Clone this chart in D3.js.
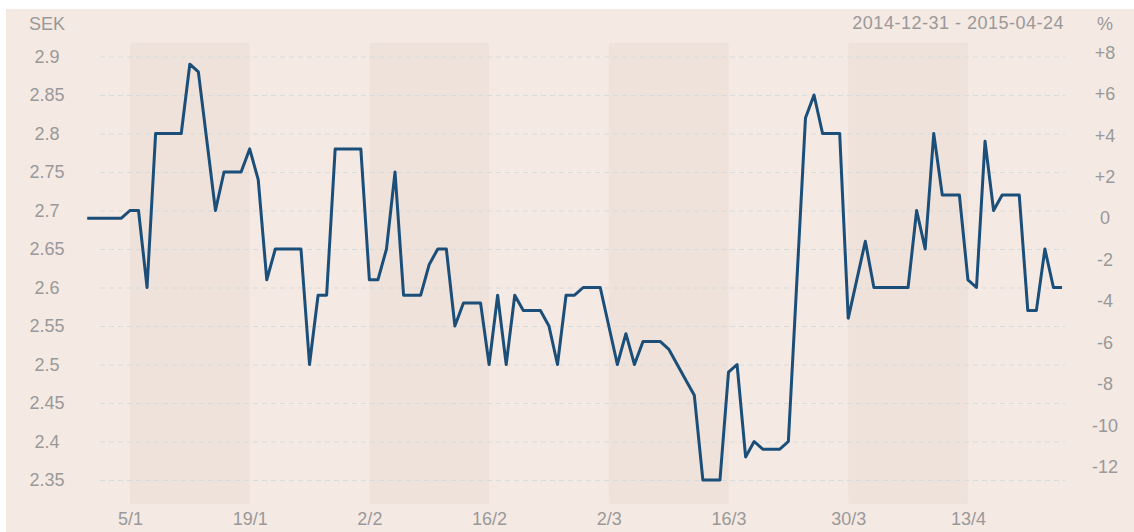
<!DOCTYPE html>
<html>
<head>
<meta charset="utf-8">
<script src="https://cdn.jsdelivr.net/npm/d3@7"></script>
<style>
  body { margin: 0; background: #fff; }
  svg { display: block; font-family: "Liberation Sans", Arial, sans-serif; }
</style>
</head>
<body>
<svg id="chart" width="1134" height="532"></svg>
<script>
// daily closing price, SEK (weekends carry the last value)
const prices = [
  ["2014-12-31", 2.69], ["2015-01-01", 2.69], ["2015-01-02", 2.69], ["2015-01-03", 2.69], ["2015-01-04", 2.69],
  ["2015-01-05", 2.70], ["2015-01-06", 2.70], ["2015-01-07", 2.60], ["2015-01-08", 2.80], ["2015-01-09", 2.80],
  ["2015-01-10", 2.80], ["2015-01-11", 2.80], ["2015-01-12", 2.89], ["2015-01-13", 2.88], ["2015-01-14", 2.79],
  ["2015-01-15", 2.70], ["2015-01-16", 2.75], ["2015-01-17", 2.75], ["2015-01-18", 2.75], ["2015-01-19", 2.78],
  ["2015-01-20", 2.74], ["2015-01-21", 2.61], ["2015-01-22", 2.65], ["2015-01-23", 2.65], ["2015-01-24", 2.65],
  ["2015-01-25", 2.65], ["2015-01-26", 2.50], ["2015-01-27", 2.59], ["2015-01-28", 2.59], ["2015-01-29", 2.78],
  ["2015-01-30", 2.78], ["2015-01-31", 2.78], ["2015-02-01", 2.78], ["2015-02-02", 2.61], ["2015-02-03", 2.61],
  ["2015-02-04", 2.65], ["2015-02-05", 2.75], ["2015-02-06", 2.59], ["2015-02-07", 2.59], ["2015-02-08", 2.59],
  ["2015-02-09", 2.63], ["2015-02-10", 2.65], ["2015-02-11", 2.65], ["2015-02-12", 2.55], ["2015-02-13", 2.58],
  ["2015-02-14", 2.58], ["2015-02-15", 2.58], ["2015-02-16", 2.50], ["2015-02-17", 2.59], ["2015-02-18", 2.50],
  ["2015-02-19", 2.59], ["2015-02-20", 2.57], ["2015-02-21", 2.57], ["2015-02-22", 2.57], ["2015-02-23", 2.55],
  ["2015-02-24", 2.50], ["2015-02-25", 2.59], ["2015-02-26", 2.59], ["2015-02-27", 2.60], ["2015-02-28", 2.60],
  ["2015-03-01", 2.60], ["2015-03-02", 2.55], ["2015-03-03", 2.50], ["2015-03-04", 2.54], ["2015-03-05", 2.50],
  ["2015-03-06", 2.53], ["2015-03-07", 2.53], ["2015-03-08", 2.53], ["2015-03-09", 2.52], ["2015-03-10", 2.50],
  ["2015-03-11", 2.48], ["2015-03-12", 2.46], ["2015-03-13", 2.35], ["2015-03-14", 2.35], ["2015-03-15", 2.35],
  ["2015-03-16", 2.49], ["2015-03-17", 2.50], ["2015-03-18", 2.38], ["2015-03-19", 2.40], ["2015-03-20", 2.39],
  ["2015-03-21", 2.39], ["2015-03-22", 2.39], ["2015-03-23", 2.40], ["2015-03-24", 2.61], ["2015-03-25", 2.82],
  ["2015-03-26", 2.85], ["2015-03-27", 2.80], ["2015-03-28", 2.80], ["2015-03-29", 2.80], ["2015-03-30", 2.56],
  ["2015-03-31", 2.61], ["2015-04-01", 2.66], ["2015-04-02", 2.60], ["2015-04-03", 2.60], ["2015-04-04", 2.60],
  ["2015-04-05", 2.60], ["2015-04-06", 2.60], ["2015-04-07", 2.70], ["2015-04-08", 2.65], ["2015-04-09", 2.80],
  ["2015-04-10", 2.72], ["2015-04-11", 2.72], ["2015-04-12", 2.72], ["2015-04-13", 2.61], ["2015-04-14", 2.60],
  ["2015-04-15", 2.79], ["2015-04-16", 2.70], ["2015-04-17", 2.72], ["2015-04-18", 2.72], ["2015-04-19", 2.72],
  ["2015-04-20", 2.57], ["2015-04-21", 2.57], ["2015-04-22", 2.65], ["2015-04-23", 2.60], ["2015-04-24", 2.60]
];

const dateRange = ["2014-12-31", "2015-04-24"];
const xTickDates = ["2015-01-05", "2015-01-19", "2015-02-02", "2015-02-16", "2015-03-02", "2015-03-16", "2015-03-30", "2015-04-13"];
// shaded two-week bands [start, end]
const bands = [
  ["2015-01-05", "2015-01-19"],
  ["2015-02-02", "2015-02-16"],
  ["2015-03-02", "2015-03-16"],
  ["2015-03-30", "2015-04-13"]
];
const sekTicks = [2.35, 2.4, 2.45, 2.5, 2.55, 2.6, 2.65, 2.7, 2.75, 2.8, 2.85, 2.9];
const pctTicks = [-12, -10, -8, -6, -4, -2, 0, 2, 4, 6, 8];
const basePrice = 2.69;   // first close, the 0 % level

const parse = d3.utcParse("%Y-%m-%d");
const data = prices.map(d => ({ date: parse(d[0]), value: d[1] }));

const svg = d3.select("#chart");
const textColor = "#999";
const fontsize = 18;

// panel background
svg.append("rect")
  .attr("x", 6).attr("y", 9)
  .attr("width", 1134 - 6).attr("height", 532 - 9)
  .attr("fill", "#f5e9e4");

// scales
const x = d3.scaleUtc()
  .domain(dateRange.map(parse))
  .range([87.2, 1062]);
const y = d3.scaleLinear()
  .domain([2.35, 2.9])
  .range([480, 56.5]);
const yPct = p => y(basePrice * (1 + p / 100));

// bands
svg.append("g").selectAll("rect")
  .data(bands)
  .enter().append("rect")
  .attr("x", d => x(parse(d[0])))
  .attr("width", d => x(parse(d[1])) - x(parse(d[0])))
  .attr("y", 42.7)
  .attr("height", 504 - 42.7)
  .attr("rx", 2)
  .attr("fill", "#efe2db");

// grid
const gridG = svg.append("g")
  .attr("transform", "translate(100,0)")
  .call(d3.axisLeft(y).tickValues(sekTicks).tickSize(-965).tickFormat(""));
gridG.select(".domain").remove();
gridG.selectAll("line")
  .attr("stroke", "#d6dcdb")
  .attr("stroke-dasharray", "5,4");

// left axis (SEK)
const leftG = svg.append("g")
  .attr("transform", "translate(47,0)")
  .call(d3.axisLeft(y).tickValues(sekTicks).tickSize(0).tickPadding(0).tickFormat(d3.format("~g")));
leftG.select(".domain").remove();
leftG.selectAll("text")
  .attr("x", 0)
  .attr("text-anchor", "middle")
  .attr("fill", textColor)
  .style("font-size", fontsize)
  .style("font-family", "Liberation Sans, Arial, sans-serif");

// right axis (%)
const yPctScale = d3.scaleLinear()
  .domain([-12, 8])
  .range([yPct(-12), yPct(8)]);
const rightG = svg.append("g")
  .attr("transform", "translate(1105,0)")
  .call(d3.axisRight(yPctScale).tickValues(pctTicks).tickSize(0).tickPadding(0)
    .tickFormat(d => d > 0 ? "+" + d : String(d)));
rightG.select(".domain").remove();
rightG.selectAll("text")
  .attr("x", 0)
  .attr("text-anchor", "middle")
  .attr("fill", textColor)
  .style("font-size", fontsize)
  .style("font-family", "Liberation Sans, Arial, sans-serif");

// x axis
const xAxisG = svg.append("g")
  .attr("transform", "translate(0,512)")
  .call(d3.axisBottom(x).tickValues(xTickDates.map(parse)).tickSize(0).tickPadding(0)
    .tickFormat(d3.utcFormat("%-d/%-m")));
xAxisG.select(".domain").remove();
xAxisG.selectAll("text")
  .attr("y", 0)
  .attr("dy", "0.72em")
  .attr("fill", textColor)
  .style("font-size", fontsize)
  .style("font-family", "Liberation Sans, Arial, sans-serif");

// unit labels and date range
svg.append("text")
  .attr("x", 47).attr("y", 23.5).attr("dy", "0.35em")
  .attr("text-anchor", "middle")
  .attr("fill", textColor)
  .style("font-size", fontsize)
  .text("SEK");
svg.append("text")
  .attr("x", 1105).attr("y", 23.5).attr("dy", "0.35em")
  .attr("text-anchor", "middle")
  .attr("fill", textColor)
  .style("font-size", fontsize)
  .text("%");
svg.append("text")
  .attr("x", 1064).attr("y", 23).attr("dy", "0.35em")
  .attr("text-anchor", "end")
  .attr("fill", textColor)
  .style("font-size", fontsize)
  .style("letter-spacing", "0.5px")
  .text(dateRange[0] + " - " + dateRange[1]);

// price line
svg.append("path")
  .datum(data)
  .attr("d", d3.line().x(d => x(d.date)).y(d => y(d.value)))
  .attr("fill", "none")
  .attr("stroke", "#1b4f79")
  .attr("stroke-width", 3)
  .attr("stroke-linejoin", "round");
</script>
</body>
</html>
